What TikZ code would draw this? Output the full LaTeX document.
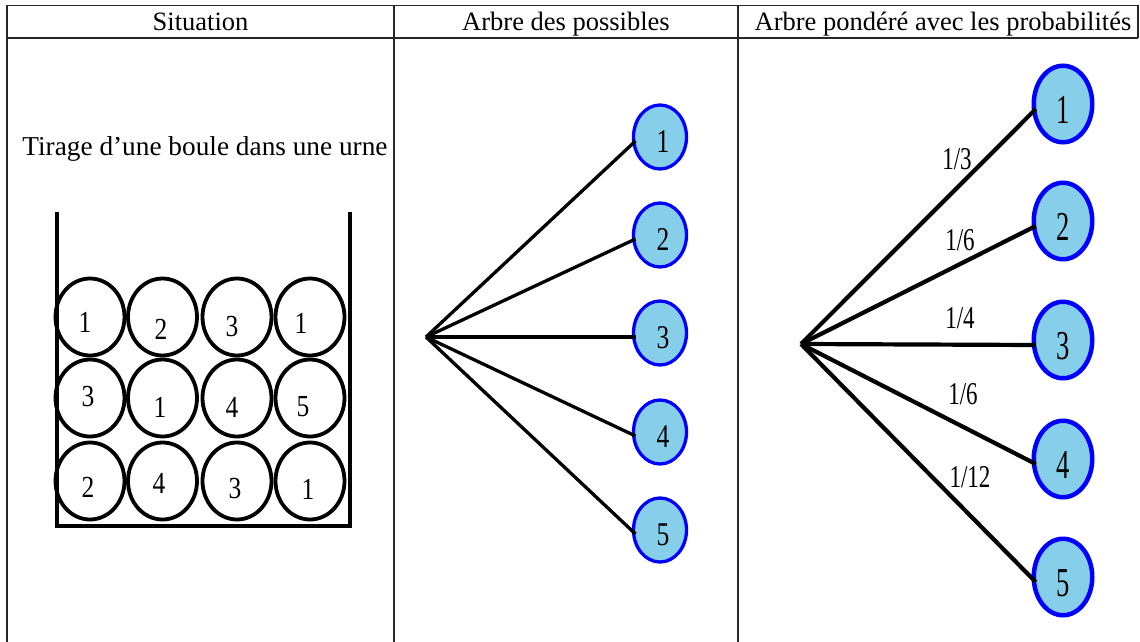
\documentclass[tikz,border=0pt]{standalone}
\usepackage{fontspec}
\setmainfont{Liberation Serif}
\usepackage{graphicx}
\usetikzlibrary{shapes.geometric}
\definecolor{nodefill}{HTML}{87CEEB}
\definecolor{nodeline}{HTML}{0000FF}
\newcommand\vstretch[2]{\scalebox{1}[#1]{#2}}
\begin{document}
\begin{tikzpicture}[x=1pt,y=-1pt,
  gridline/.style={line width=1.2pt, black!85},
  headtext/.style={inner sep=0pt, anchor=base, font=\fontsize{26.5}{30}\selectfont},
  wall/.style={line width=4pt},
  ball/.style={draw, ellipse, line width=3.8pt, minimum width=69pt, minimum height=77pt, inner sep=0pt, outer sep=0pt},
  balltext/.style={inner sep=0pt, font=\fontsize{25.5}{28}\selectfont},
  nodeA/.style={draw=nodeline, fill=nodefill, ellipse, line width=3.3pt, minimum width=53pt, minimum height=64pt, inner sep=0pt, outer sep=0pt},
  textA/.style={inner sep=0pt, font=\fontsize{25.5}{28}\selectfont},
  nodeB/.style={draw=nodeline, fill=nodefill, ellipse, line width=4.5pt, minimum width=58.5pt, minimum height=76.5pt, inner sep=0pt, outer sep=0pt},
  textB/.style={inner sep=0pt, font=\fontsize{26.5}{28}\selectfont},
  branchA/.style={line width=3.3pt},
  branchB/.style={line width=4.2pt},
  prob/.style={inner sep=0pt, font=\fontsize{23}{26}\selectfont},
]
\useasboundingbox[fill=white] (0,0) rectangle (1140,642);

% table
\coordinate (tl) at (7,5.5);
\coordinate (tr) at (1138,5.5);
\coordinate (hl) at (7,38);
\coordinate (hr) at (1138,38);
\coordinate (bl) at (7,642);
\coordinate (c1t) at (394,5.5);
\coordinate (c1b) at (394,642);
\coordinate (c2t) at (738,5.5);
\coordinate (c2b) at (738,642);
\draw[gridline] (tl) -- (tr) -- (hr);
\draw[gridline] (hl) -- (hr);
\draw[gridline] (tl) -- (bl);
\draw[gridline] (c1t) -- (c1b);
\draw[gridline] (c2t) -- (c2b);

\node[headtext] (h1) at (200.5,31) {Situation};
\node[headtext] (h2) at (566,31) {Arbre des possibles};
\node[headtext] (h3) at (943,31) {Arbre pondéré avec les probabilités};

\node[inner sep=0pt, anchor=base, font=\fontsize{27.3}{30}\selectfont] (sit) at (205,155) {Tirage d’une boule dans une urne};

% urn
\coordinate (uwl) at (57,212);
\coordinate (ubl) at (57,526);
\coordinate (uwr) at (349.5,212);
\coordinate (ubr) at (349.5,526);
\draw[wall] (uwl) -- (ubl);
\draw[wall] (uwr) -- (ubr);
\draw[wall] ([xshift=-2pt]ubl) -- ([xshift=2pt]ubr);

\foreach \c/\x in {1/90,2/162.5,3/237,4/310}{
  \foreach \r/\y in {1/317,2/398,3/481}{
    \node[ball] (b\r\c) at (\x,\y) {};
  }
}
\foreach \nm/\x/\y/\t in {t11/85/322/1, t12/161/329/2, t13/232/327/3, t14/301/323/1,
                           t21/88/397/3, t22/160/407/1, t23/232/407/4, t24/303/407/5,
                           t31/88/487/2, t32/159/483/4, t33/235/489/3, t34/308/489/1}{
  \node[balltext] (\nm) at (\x,\y) {\vstretch{1.2}{\t}};
}

% tree of possibilities
\coordinate (rA) at (426,337);
\foreach \i/\y in {1/137,2/235,3/333,4/432,5/530}{
  \node[nodeA] (a\i) at (660,\y) {};
  \node[textA] (ta\i) at ([shift={(3,5)}]a\i.center) {\vstretch{1.3}{\i}};
  \draw[branchA] (rA) -- ([shift={(2,4)}]a\i.west);
}

% weighted tree
\coordinate (rB) at (801,344);
\foreach \i/\y in {1/104,2/221,3/340,4/459,5/577}{
  \node[nodeB] (n\i) at (1063,\y) {};
  \node[textB] (tn\i) at ([shift={(0,6)}]n\i.center) {\vstretch{1.55}{\i}};
  \draw[branchB] (rB) -- ([shift={(2,5)}]n\i.west);
}
\node[prob] (p1) at (957,159) {\vstretch{1.38}{1/3}};
\node[prob] (p2) at (960,240) {\vstretch{1.38}{1/6}};
\node[prob] (p3) at (960,318) {\vstretch{1.38}{1/4}};
\node[prob] (p4) at (963,394) {\vstretch{1.38}{1/6}};
\node[prob] (p5) at (970,477) {\vstretch{1.38}{1/12}};
\end{tikzpicture}
\end{document}
